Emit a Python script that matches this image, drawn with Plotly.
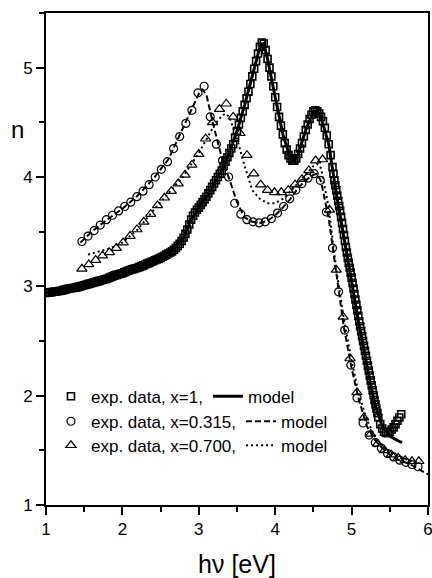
import plotly.graph_objects as go

# ---------------- data ----------------
# x = 1 : experimental data (squares), very dense in the original
sq_x = [1.000, 1.025, 1.050, 1.075, 1.100, 1.125, 1.150, 1.175, 1.200, 1.225,
        1.250, 1.275, 1.300, 1.325, 1.350, 1.375, 1.400, 1.425, 1.450, 1.475,
        1.500, 1.525, 1.550, 1.575, 1.600, 1.625, 1.650, 1.675, 1.700, 1.725,
        1.750, 1.775, 1.800, 1.825, 1.850, 1.875, 1.900, 1.925, 1.950, 1.975,
        2.000, 2.025, 2.050, 2.075, 2.100, 2.125, 2.150, 2.175, 2.200, 2.225,
        2.250, 2.275, 2.300, 2.325, 2.350, 2.375, 2.400, 2.425, 2.450, 2.475,
        2.500, 2.525, 2.550, 2.575, 2.600, 2.625, 2.650, 2.675, 2.700, 2.725,
        2.750, 2.775, 2.800, 2.825, 2.850, 2.875, 2.900, 2.925, 2.950, 2.975,
        3.000, 3.025, 3.050, 3.075, 3.100, 3.125, 3.150, 3.175, 3.200, 3.225,
        3.250, 3.275,
        3.300, 3.325, 3.350, 3.375, 3.400, 3.425, 3.450, 3.475, 3.500, 3.525,
        3.550, 3.575, 3.600, 3.625, 3.650, 3.675, 3.700, 3.725, 3.750, 3.775,
        3.800, 3.825, 3.850, 3.875, 3.900, 3.925, 3.950, 3.975, 4.000, 4.025,
        4.050, 4.075, 4.100, 4.125, 4.150, 4.175, 4.200, 4.225, 4.250, 4.275,
        4.300, 4.325, 4.350, 4.375, 4.400, 4.425, 4.450, 4.475, 4.500, 4.525,
        4.550, 4.575, 4.600, 4.625, 4.650, 4.675, 4.700, 4.725, 4.750,
        4.7625, 4.775, 4.7875, 4.800, 4.8125, 4.825, 4.8375, 4.850, 4.8625, 4.875,
        4.8875, 4.900, 4.9125, 4.925, 4.9375, 4.950, 4.9625, 4.975, 4.9875, 5.000,
        5.0125, 5.025, 5.0375, 5.050, 5.0625, 5.075, 5.0875, 5.100, 5.1125, 5.125,
        5.1375, 5.150, 5.1625, 5.175, 5.1875, 5.200, 5.2125, 5.225, 5.2375, 5.250,
        5.2625, 5.275, 5.2875, 5.300, 5.3125, 5.325, 5.3375,
        5.350, 5.375, 5.400, 5.425, 5.450, 5.475, 5.500, 5.525, 5.550, 5.575,
        5.600, 5.625, 5.650]
sq_n = [2.940, 2.942, 2.945, 2.947, 2.950, 2.952, 2.955, 2.957, 2.960, 2.965,
        2.970, 2.975, 2.980, 2.982, 2.985, 2.987, 2.990, 2.995, 3.000, 3.005,
        3.010, 3.015, 3.020, 3.025, 3.030, 3.035, 3.040, 3.045, 3.050, 3.055,
        3.060, 3.065, 3.070, 3.078, 3.085, 3.092, 3.100, 3.105, 3.110, 3.115,
        3.120, 3.128, 3.135, 3.142, 3.150, 3.155, 3.160, 3.165, 3.170, 3.178,
        3.185, 3.192, 3.200, 3.208, 3.215, 3.222, 3.230, 3.238, 3.245, 3.252,
        3.260, 3.270, 3.280, 3.290, 3.300, 3.310, 3.320, 3.335, 3.350, 3.370,
        3.390, 3.415, 3.445, 3.480, 3.520, 3.565, 3.610, 3.645, 3.675, 3.700,
        3.720, 3.745, 3.770, 3.795, 3.820, 3.850, 3.880, 3.910, 3.940, 3.970,
        4.000, 4.030,
        4.06, 4.10, 4.14, 4.18, 4.22, 4.26, 4.30, 4.36, 4.42, 4.48,
        4.54, 4.60, 4.66, 4.72, 4.78, 4.85, 4.92, 4.99, 5.06, 5.13,
        5.19, 5.23, 5.22, 5.16, 5.08, 5.00, 4.92, 4.83, 4.73, 4.64,
        4.55, 4.47, 4.39, 4.31, 4.25, 4.20, 4.17, 4.15, 4.15, 4.17,
        4.21, 4.26, 4.31, 4.37, 4.43, 4.48, 4.53, 4.57, 4.60, 4.61,
        4.60, 4.58, 4.55, 4.51, 4.45, 4.38, 4.30, 4.20, 4.09,
        4.03, 3.97, 3.925, 3.88, 3.83, 3.78, 3.735, 3.69, 3.635, 3.58,
        3.525, 3.47, 3.415, 3.36, 3.31, 3.26, 3.215, 3.17, 3.125, 3.08,
        3.03, 2.98, 2.93, 2.88, 2.83, 2.78, 2.73, 2.68, 2.635, 2.59,
        2.545, 2.50, 2.455, 2.41, 2.365, 2.32, 2.275, 2.23, 2.185, 2.14,
        2.095, 2.05, 2.005, 1.96, 1.92, 1.88, 1.84,
        1.80, 1.74, 1.70, 1.67, 1.66, 1.66, 1.67, 1.69, 1.71, 1.74,
        1.77, 1.80, 1.83]

# x = 1 : model (solid)
m1_x = [1.0, 1.2, 1.4, 1.6, 1.8, 2.0, 2.2, 2.4, 2.6, 2.8, 2.9, 3.0, 3.1, 3.2, 3.3, 3.4, 3.5, 3.6,
        3.7, 3.8, 3.85, 3.9, 4.0, 4.1, 4.2, 4.25, 4.3, 4.4, 4.5, 4.55, 4.6, 4.7, 4.8, 4.9, 5.0,
        5.1, 5.2, 5.3, 5.4, 5.5, 5.6, 5.66]
m1_n = [2.94, 2.96, 2.99, 3.03, 3.07, 3.12, 3.17, 3.23, 3.30, 3.445, 3.61, 3.72, 3.82, 3.94, 4.06,
        4.22, 4.42, 4.66, 4.92, 5.19, 5.22, 5.08, 4.73, 4.39, 4.17, 4.15, 4.21, 4.43, 4.60, 4.60,
        4.55, 4.30, 3.85, 3.44, 3.03, 2.64, 2.28, 1.93, 1.72, 1.63, 1.59, 1.57]

# x = 0.315 : experimental data (circles)
ci_x = [1.47, 1.55, 1.63, 1.71, 1.79, 1.87, 1.95, 2.03, 2.11, 2.19, 2.27, 2.35, 2.43, 2.51, 2.59,
        2.67, 2.75, 2.83, 2.91, 2.99, 3.07, 3.15, 3.23, 3.31, 3.39, 3.47, 3.55, 3.63, 3.71, 3.79,
        3.87, 3.95, 4.03, 4.11, 4.19, 4.27, 4.35, 4.43, 4.51, 4.59, 4.67, 4.75, 4.83, 4.91, 4.99,
        5.07, 5.15, 5.23, 5.31, 5.39, 5.47, 5.55, 5.63, 5.71, 5.79, 5.87]
ci_n = [3.41, 3.46, 3.51, 3.56, 3.61, 3.65, 3.69, 3.73, 3.77, 3.82, 3.87, 3.93, 4.00, 4.07, 4.14,
        4.26, 4.37, 4.49, 4.61, 4.77, 4.83, 4.55, 4.30, 4.15, 4.00, 3.76, 3.66, 3.61, 3.59, 3.58,
        3.59, 3.62, 3.67, 3.73, 3.80, 3.88, 3.94, 3.99, 4.03, 3.97, 3.68, 3.35, 2.95, 2.60, 2.28,
        1.98, 1.75, 1.64, 1.57, 1.52, 1.47, 1.44, 1.41, 1.39, 1.37, 1.35]

# x = 0.315 : model (dashed)
m2_x = [1.45, 1.6, 1.8, 2.0, 2.2, 2.4, 2.6, 2.8, 2.9, 3.0, 3.05, 3.1, 3.2, 3.3, 3.4, 3.5, 3.6, 3.7,
        3.8, 3.9, 4.0, 4.1, 4.2, 4.3, 4.4, 4.5, 4.55, 4.6, 4.7, 4.8, 4.9, 5.0, 5.1, 5.2, 5.3, 5.4,
        5.5, 5.6, 5.7, 5.8, 5.9, 6.0]
m2_n = [3.40, 3.50, 3.61, 3.71, 3.83, 3.98, 4.16, 4.46, 4.62, 4.76, 4.80, 4.75, 4.45, 4.18, 3.98,
        3.77, 3.63, 3.59, 3.58, 3.60, 3.65, 3.72, 3.80, 3.90, 3.97, 4.02, 4.03, 3.96, 3.62, 3.10,
        2.62, 2.25, 1.95, 1.72, 1.60, 1.52, 1.46, 1.42, 1.39, 1.36, 1.32, 1.28]

# x = 0.700 : experimental data (triangles)
tr_x = [1.47, 1.56, 1.65, 1.74, 1.83, 1.92, 2.01, 2.10, 2.19, 2.28, 2.37, 2.46, 2.55, 2.64, 2.73,
        2.82, 2.91, 3.00, 3.09, 3.18, 3.27, 3.36, 3.45, 3.54, 3.63, 3.72, 3.81, 3.90, 3.99, 4.08,
        4.17, 4.26, 4.35, 4.44, 4.53, 4.62, 4.71, 4.80, 4.89, 4.98, 5.07, 5.16, 5.25, 5.34, 5.43,
        5.52, 5.61, 5.70, 5.79, 5.88]
tr_n = [3.16, 3.20, 3.24, 3.28, 3.31, 3.35, 3.40, 3.46, 3.52, 3.59, 3.66, 3.74, 3.81, 3.87, 3.94,
        4.02, 4.11, 4.21, 4.35, 4.50, 4.62, 4.67, 4.55, 4.40, 4.20, 4.03, 3.93, 3.88, 3.86, 3.86,
        3.88, 3.93, 3.98, 4.06, 4.15, 4.16, 3.70, 3.15, 2.72, 2.34, 2.03, 1.80, 1.65, 1.56, 1.50,
        1.46, 1.43, 1.41, 1.40, 1.40]

# x = 0.700 : model (dotted)
m3_x = [1.55, 1.7, 1.85, 2.0, 2.2, 2.4, 2.6, 2.8, 3.0, 3.1, 3.2, 3.3, 3.35, 3.4, 3.5, 3.6, 3.7,
        3.8, 3.9, 4.0, 4.1, 4.2, 4.3, 4.4, 4.5, 4.55, 4.6, 4.7, 4.8, 4.9, 5.0, 5.1, 5.2, 5.3, 5.4,
        5.5, 5.6, 5.7, 5.8, 5.9]
m3_n = [3.29, 3.32, 3.35, 3.40, 3.52, 3.69, 3.85, 4.01, 4.22, 4.34, 4.47, 4.56, 4.58, 4.55, 4.35,
        4.10, 3.88, 3.80, 3.76, 3.76, 3.80, 3.87, 3.95, 4.03, 4.10, 4.12, 4.08, 3.72, 3.15, 2.70,
        2.32, 2.00, 1.78, 1.63, 1.54, 1.48, 1.44, 1.42, 1.40, 1.39]

assert len(sq_x) == len(sq_n) and len(m1_x) == len(m1_n)
assert len(ci_x) == len(ci_n) and len(m2_x) == len(m2_n)
assert len(tr_x) == len(tr_n) and len(m3_x) == len(m3_n)

x_ticks = [1, 2, 3, 4, 5, 6]
y_ticks = [1, 2, 3, 4, 5]

legend_data = ["exp. data, x=1,", "exp. data, x=0.315,", "exp. data, x=0.700,"]
legend_model = "model"

# ---------------- figure ----------------
FONT = "Liberation Sans, Arial, Helvetica, sans-serif"
fig = go.Figure()

fig.add_trace(go.Scatter(x=m2_x, y=m2_n, mode="lines", name=legend_model, legend="legend2",
                         line=dict(color="black", width=2, dash="6px,3px"), legendrank=2))
fig.add_trace(go.Scatter(x=m3_x, y=m3_n, mode="lines", name=legend_model, legend="legend3",
                         line=dict(color="black", width=2, dash="2px,3px"), legendrank=2))
fig.add_trace(go.Scatter(x=ci_x, y=ci_n, mode="markers", name=legend_data[1], legend="legend2",
                         marker=dict(symbol="circle-open", size=8, color="black",
                                     line=dict(width=1.2, color="black")), legendrank=1))
fig.add_trace(go.Scatter(x=tr_x, y=tr_n, mode="markers", name=legend_data[2], legend="legend3",
                         marker=dict(symbol="triangle-up-open", size=9, color="black",
                                     line=dict(width=1.2, color="black")), legendrank=1))
fig.add_trace(go.Scatter(x=m1_x, y=m1_n, mode="lines", name=legend_model, legend="legend",
                         line=dict(color="black", width=3), legendrank=2))
fig.add_trace(go.Scatter(x=sq_x, y=sq_n, mode="markers", name=legend_data[0], legend="legend",
                         marker=dict(symbol="square-open", size=7, color="black",
                                     line=dict(width=1.6, color="black")), legendrank=1))

leg_common = dict(orientation="h", xanchor="left", yanchor="middle", bgcolor="rgba(0,0,0,0)",
                  font=dict(family=FONT, size=17, color="black"), tracegroupgap=0,
                  traceorder="normal", itemwidth=30)
fig.update_layout(
    width=432, height=578,
    margin=dict(l=46, r=4, t=13, b=73, autoexpand=False),
    paper_bgcolor="white", plot_bgcolor="white",
    font=dict(family=FONT, color="black"),
    legend=dict(x=0.013, y=0.2201, **leg_common),
    legend2=dict(x=0.013, y=0.1693, **leg_common),
    legend3=dict(x=0.013, y=0.1205, **leg_common),
    xaxis=dict(range=[1, 6], tickvals=x_ticks, ticks="outside", ticklen=8, tickwidth=1.5,
               tickcolor="black", showline=True, linewidth=2, linecolor="black", mirror=True,
               showgrid=False, zeroline=False, tickfont=dict(size=17, family=FONT),
               automargin=False, ticklabeloverflow="allow",
               minor=dict(dtick=0.5, ticks="outside", ticklen=5, tickwidth=1.5, tickcolor="black"),
               title=dict(text="hν [eV]", font=dict(size=25, family=FONT), standoff=18)),
    yaxis=dict(range=[1, 5.5], tickvals=y_ticks, ticks="outside", ticklen=8, tickwidth=1.5,
               tickcolor="black", showline=True, linewidth=2, linecolor="black", mirror=True,
               showgrid=False, zeroline=False, tickfont=dict(size=17, family=FONT),
               automargin=False, ticklabeloverflow="allow",
               minor=dict(dtick=0.5, ticks="outside", ticklen=5, tickwidth=1.5, tickcolor="black")),
    annotations=[dict(text="n", xref="paper", yref="paper", x=-0.075, y=0.764,
                      xanchor="center", yanchor="middle",
                      showarrow=False, font=dict(size=24, family=FONT, color="black"))],
)

fig.write_html("out.html")
